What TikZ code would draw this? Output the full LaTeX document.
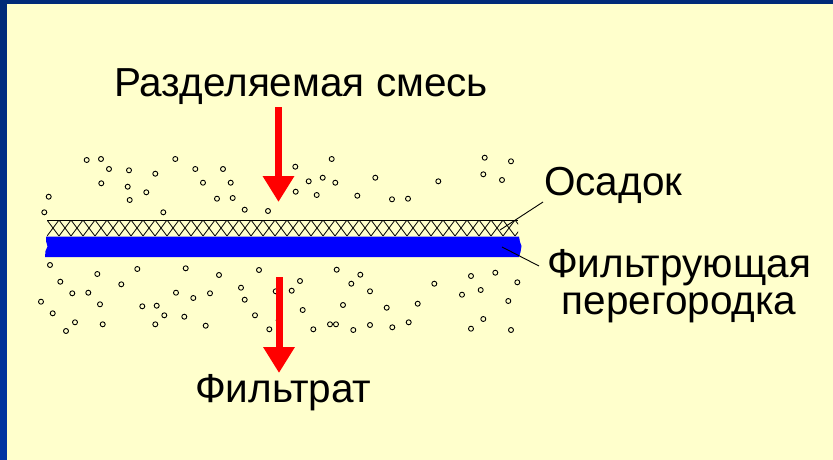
\documentclass[tikz,border=0pt]{standalone}
\usepackage{fontspec}
\setmainfont{Liberation Sans}
\usetikzlibrary{arrows.meta}
\definecolor{bgyellow}{HTML}{FFFFCC}
\definecolor{navytop}{HTML}{002A78}
\definecolor{navybot}{HTML}{0034A2}
\definecolor{fblue}{HTML}{0000FF}
\definecolor{fred}{HTML}{FF0000}
\tikzset{
  lbl/.style={inner sep=0pt, font=\fontsize{40.5}{36.5}\selectfont, text=black},
  particle/.style={draw=black, line width=0.9pt},
  flowarrow/.style={draw=fred, line width=7pt, -{Triangle[length=26pt,width=30pt]}},
  leader/.style={draw=black, line width=0.9pt},
  hatchline/.style={draw=black, line width=0.8pt}
}
\begin{document}
\begin{tikzpicture}[x=1pt,y=-1pt]
\useasboundingbox (0,0) rectangle (833,460);
% background and frame
\fill[bgyellow] (0,0) rectangle (833,460);
\foreach \i in {0,...,45}{
  \pgfmathsetmacro{\p}{100-\i*100/45}
  \fill[navytop!\p!navybot] (0,\i*10) rectangle (7,\i*10+10.5);
}
\fill[navytop] (0,0) rectangle (833,4);
% filter cake (hatched)
\begin{scope}
  \clip (47,220) rectangle (518,236);
  \foreach \k in {0,...,40}{
    \draw[hatchline] (47+\k*12,220) -- (59+\k*12,236);
    \draw[hatchline] (59+\k*12,220) -- (47+\k*12,236);
  }
\end{scope}
\draw[hatchline] (47,220) -- (518,220);
% filter medium
\fill[fblue] (46,236.5) -- (519,236.5) -- (520,242) -- (521.5,246) -- (520.5,252) -- (519,257) -- (45,257) -- (45.5,251) -- (47.5,246.5) -- (46,241) -- cycle;
% particles
\foreach \x/\y in {86.7/160,101/159,109/169,129/170.3,155.3/173.7,175.3/159,195.3/169,223/169,101.3/183.3,127.7/186.7,146.3/192.3,129.7/200,203/182.7,230.7/182.7,48.7/196.7,44.3/212.3,163.3/212.3,217/198.7,232.7/198,244.7/209.7,268/211,295.3/166.7,295.7/191.7,308.7/181.3,331.7/159,322.7/177.7,335.3/182.7,316.7/195,375.3/177.7,357.3/195.7,392/199.3,408/198.7,438.3/181.3,484.7/157.7,511/161.3,483.3/174.3,502/180}
  \draw[particle] (\x,\y) circle (2.5);
\foreach \x/\y in {50/265,60.3/281.7,97.3/274,137.3/269,185.7/268.3,219/275,259/270,121.3/284.3,72.3/293.3,88.3/292.7,41/301.7,100/304.3,52.7/313.3,75/322.3,66/331,102.7/324.3,142.3/306.3,156.7/305.7,164.3/315.3,155.3/324.3,176/292.7,193.3/298,210/293.3,184.3/316.7,205.7/325.7,241/287.7,244.7/299.7,255/315.3,269.3/329.3,275.7/291.3,278.7/320.3,291.7/290.7,300/281,302.7/310,336.7/269.7,360.3/274.7,351.3/283.7,370/291.3,343/305,313.3/329.3,330/324.3,336/324.3,353.3/330,370/325,392.3/327.3,408.7/322.3,386.7/307.7,417.7/303.7,434.3/283.7,471/276,495.3/272.7,517.3/282.3,480.7/290,462/294.7,508.3/301,483.3/319,471/328.7,511/330}
  \draw[particle] (\x,\y) circle (2.5);
% labels
\node[lbl, anchor=base west] (mix) at (114,96) {Разделяемая смесь};
\node[lbl, anchor=base west] (cake) at (544,195) {Осадок};
\node[lbl, anchor=base, align=center] (filt) at (679,314) {Фильтрующая\\перегородка};
\node[lbl, anchor=base west] (filtrate) at (195,402) {Фильтрат};
% arrows
\coordinate (inStart) at (278.5,107);
\coordinate (inEnd) at (278.5,202);
\coordinate (outStart) at (279,277);
\coordinate (outEnd) at (279,373);
\draw[flowarrow] (inStart) -- (inEnd);
\draw[flowarrow] (outStart) -- (outEnd);
% leaders
\coordinate (cakeL) at (543,202);
\coordinate (cakeP) at (500,230);
\coordinate (filtL) at (539,266);
\coordinate (filtP) at (502,247);
\draw[leader] (cakeL) -- (cakeP);
\draw[leader] (filtL) -- (filtP);
\end{tikzpicture}
\end{document}
